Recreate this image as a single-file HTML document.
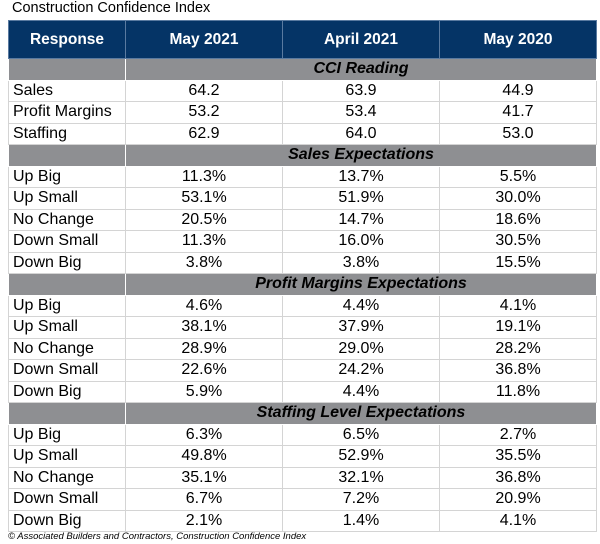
<!DOCTYPE html>
<html><head><style>
body{margin:0;width:600px;height:544px;background:#fff;font-family:"Liberation Sans",Arial,sans-serif;position:relative;overflow:hidden}
.t{position:absolute;left:12px;top:0px;font-size:14.5px;color:#000}
table{position:absolute;left:8px;top:20px;width:588px;border-collapse:collapse;table-layout:fixed;font-size:16px}
td,th{padding:0;border:1px solid #d4d4d4;height:20.5px;line-height:20px;text-align:center;color:#000}
td:first-child{text-align:left;padding-left:4px}
th{background:#053466;color:#fff;font-weight:bold;font-size:15.5px;height:37px;border:1px solid #5a7aa0}
tr.s td{background:#8e8f92;font-weight:bold;font-style:italic;border:1px solid #fff}
.f{position:absolute;left:8px;top:531px;font-size:9.5px;font-style:italic;color:#000}
</style></head><body>
<div class="t">Construction Confidence Index</div>
<table>
<colgroup><col style="width:117px"><col style="width:157px"><col style="width:157px"><col style="width:157px"></colgroup>
<tr><th>Response</th><th>May 2021</th><th>April 2021</th><th>May 2020</th></tr>
<tr class="s"><td></td><td colspan="3">CCI Reading</td></tr>
<tr><td>Sales</td><td>64.2</td><td>63.9</td><td>44.9</td></tr>
<tr><td>Profit Margins</td><td>53.2</td><td>53.4</td><td>41.7</td></tr>
<tr><td>Staffing</td><td>62.9</td><td>64.0</td><td>53.0</td></tr>
<tr class="s"><td></td><td colspan="3">Sales Expectations</td></tr>
<tr><td>Up Big</td><td>11.3%</td><td>13.7%</td><td>5.5%</td></tr>
<tr><td>Up Small</td><td>53.1%</td><td>51.9%</td><td>30.0%</td></tr>
<tr><td>No Change</td><td>20.5%</td><td>14.7%</td><td>18.6%</td></tr>
<tr><td>Down Small</td><td>11.3%</td><td>16.0%</td><td>30.5%</td></tr>
<tr><td>Down Big</td><td>3.8%</td><td>3.8%</td><td>15.5%</td></tr>
<tr class="s"><td></td><td colspan="3">Profit Margins Expectations</td></tr>
<tr><td>Up Big</td><td>4.6%</td><td>4.4%</td><td>4.1%</td></tr>
<tr><td>Up Small</td><td>38.1%</td><td>37.9%</td><td>19.1%</td></tr>
<tr><td>No Change</td><td>28.9%</td><td>29.0%</td><td>28.2%</td></tr>
<tr><td>Down Small</td><td>22.6%</td><td>24.2%</td><td>36.8%</td></tr>
<tr><td>Down Big</td><td>5.9%</td><td>4.4%</td><td>11.8%</td></tr>
<tr class="s"><td></td><td colspan="3">Staffing Level Expectations</td></tr>
<tr><td>Up Big</td><td>6.3%</td><td>6.5%</td><td>2.7%</td></tr>
<tr><td>Up Small</td><td>49.8%</td><td>52.9%</td><td>35.5%</td></tr>
<tr><td>No Change</td><td>35.1%</td><td>32.1%</td><td>36.8%</td></tr>
<tr><td>Down Small</td><td>6.7%</td><td>7.2%</td><td>20.9%</td></tr>
<tr><td>Down Big</td><td>2.1%</td><td>1.4%</td><td>4.1%</td></tr>
</table>
<div class="f">© Associated Builders and Contractors, Construction Confidence Index</div>
</body></html>
